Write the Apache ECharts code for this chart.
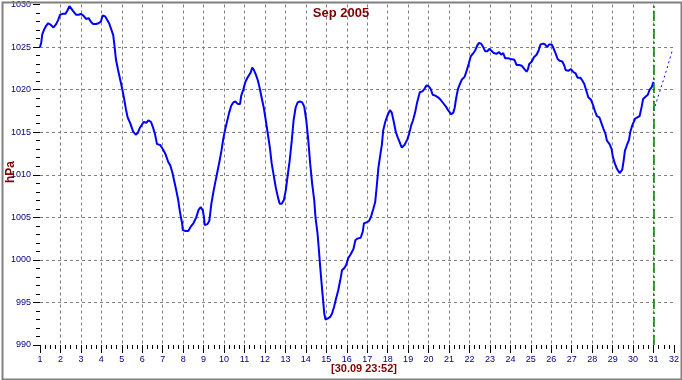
<!DOCTYPE html>
<html>
<head>
<meta charset="utf-8">
<script src="https://cdn.jsdelivr.net/npm/echarts@6/dist/echarts.min.js"></script>
<style>
html,body{margin:0;padding:0;background:#fff;}
#chart{width:682px;height:380px;}
</style>
</head>
<body>
<div id="chart"></div>
<script>
// ---- data ----
const titleText = 'Sep 2005';
const yAxisName = 'hPa';
const stampText = '[30.09 23:52]';
const dayMarker = 31;

const days = [
1.00,1.06,1.11,1.21,1.30,1.40,1.53,1.66,1.79,1.89,1.98,2.11,2.24,2.34,2.44,2.53,2.63,2.76,2.89,3.00,
3.12,3.25,3.38,3.48,3.60,3.73,3.87,3.98,4.06,4.19,4.28,4.38,4.48,4.58,4.65,4.71,4.81,4.90,5.00,5.10,
5.20,5.29,5.42,5.55,5.68,5.78,5.88,5.97,6.07,6.20,6.30,6.43,6.52,6.62,6.72,6.88,7.01,7.14,7.27,7.37,
7.47,7.56,7.66,7.76,7.82,7.89,7.95,7.98,8.11,8.25,8.37,8.50,8.64,8.76,8.86,8.96,9.02,9.05,9.19,9.28,
9.38,9.48,9.57,9.67,9.77,9.87,9.96,10.06,10.16,10.25,10.35,10.45,10.55,10.68,10.78,10.84,10.94,11.04,11.14,11.23,
11.30,11.38,11.46,11.55,11.65,11.75,11.85,11.94,12.04,12.14,12.24,12.33,12.43,12.53,12.63,12.72,12.82,12.92,13.02,13.11,
13.21,13.31,13.40,13.50,13.60,13.70,13.82,13.92,14.02,14.12,14.21,14.31,14.41,14.47,14.57,14.64,14.70,14.77,14.84,14.90,
14.96,15.06,15.19,15.28,15.38,15.48,15.58,15.68,15.77,15.87,15.97,16.07,16.20,16.33,16.42,16.52,16.68,16.78,16.84,16.97,
17.10,17.20,17.30,17.39,17.46,17.55,17.65,17.72,17.78,17.88,17.98,18.11,18.20,18.30,18.40,18.49,18.59,18.69,18.82,18.95,
19.05,19.15,19.24,19.34,19.44,19.57,19.70,19.80,19.90,20.00,20.10,20.20,20.33,20.46,20.59,20.72,20.85,20.98,21.11,21.21,
21.28,21.34,21.44,21.54,21.63,21.76,21.86,21.96,22.06,22.19,22.28,22.38,22.47,22.57,22.67,22.77,22.87,22.97,23.06,23.19,
23.32,23.45,23.55,23.65,23.74,23.87,24.01,24.10,24.20,24.30,24.43,24.56,24.69,24.79,24.86,24.92,25.05,25.15,25.28,25.38,
25.47,25.60,25.70,25.80,25.89,26.02,26.12,26.22,26.31,26.41,26.54,26.64,26.70,26.83,26.96,27.06,27.19,27.29,27.42,27.51,
27.61,27.71,27.81,27.94,28.04,28.13,28.23,28.36,28.46,28.55,28.65,28.72,28.85,28.95,29.01,29.11,29.21,29.34,29.47,29.54,
29.60,29.70,29.80,29.86,29.96,30.10,30.19,30.32,30.42,30.49,30.62,30.72,30.81,30.91,31.00
];
const pressure = [
1025.0,1025.5,1026.5,1027.1,1027.5,1027.8,1027.6,1027.3,1027.7,1028.2,1028.8,1028.9,1028.9,1029.3,1029.8,1029.6,1029.2,1028.8,1028.8,1028.9,
1028.7,1028.3,1028.4,1028.0,1027.7,1027.7,1027.8,1028.0,1028.7,1028.6,1028.4,1027.8,1027.1,1026.4,1025.0,1023.6,1022.4,1021.4,1020.3,1019.1,
1017.7,1016.7,1016.0,1015.1,1014.7,1014.9,1015.5,1015.7,1016.2,1016.1,1016.4,1016.2,1015.6,1014.8,1013.6,1013.5,1013.0,1012.4,1011.5,1011.1,
1010.3,1009.3,1008.2,1007.0,1006.0,1005.0,1004.3,1003.5,1003.4,1003.4,1003.9,1004.3,1005.0,1005.9,1006.2,1005.8,1005.0,1004.1,1004.2,1004.6,
1006.6,1008.0,1009.1,1010.3,1011.5,1012.8,1014.2,1015.4,1016.4,1017.3,1018.1,1018.5,1018.6,1018.3,1018.3,1019.3,1020.0,1020.9,1021.4,1021.5,
1022.0,1022.6,1022.3,1021.8,1021.1,1020.1,1018.9,1017.9,1016.4,1014.8,1013.2,1011.3,1009.9,1008.5,1007.4,1006.6,1006.6,1007.0,1008.2,1009.9,
1011.7,1014.0,1016.4,1017.9,1018.5,1018.6,1018.5,1018.0,1016.4,1014.0,1011.3,1008.9,1007.0,1005.0,1003.1,1001.1,999.2,997.2,995.3,993.7,
993.0,993.1,993.3,993.7,994.5,995.5,996.4,997.6,998.8,999.0,999.4,1000.2,1000.7,1001.3,1002.3,1002.5,1002.6,1003.3,1004.3,1004.4,
1004.6,1005.2,1006.0,1006.8,1008.5,1010.9,1012.5,1013.6,1015.2,1016.2,1016.9,1017.6,1017.3,1016.2,1015.0,1014.4,1013.8,1013.2,1013.5,1014.1,
1014.8,1015.8,1016.4,1017.3,1018.5,1019.7,1019.8,1020.1,1020.5,1020.4,1020.1,1019.4,1019.3,1019.1,1018.8,1018.4,1018.0,1017.5,1017.1,1017.3,
1017.9,1018.9,1020.1,1020.7,1021.2,1021.5,1022.2,1023.0,1023.9,1024.3,1024.6,1025.2,1025.5,1025.4,1025.0,1024.5,1024.5,1024.8,1024.6,1024.3,
1024.2,1024.4,1024.1,1024.3,1023.7,1023.7,1023.6,1023.4,1023.5,1022.9,1022.9,1022.8,1022.4,1022.1,1022.4,1023.0,1023.3,1023.8,1024.1,1024.6,
1025.3,1025.4,1025.3,1025.0,1025.3,1025.3,1024.8,1024.2,1023.6,1023.4,1023.3,1022.8,1022.3,1022.2,1022.4,1022.1,1021.9,1021.4,1021.4,1021.1,
1020.7,1019.9,1019.1,1018.8,1018.2,1017.5,1016.9,1016.7,1016.0,1015.4,1014.8,1014.0,1013.6,1013.0,1012.1,1011.3,1010.7,1010.2,1010.6,1011.7,
1012.8,1013.5,1014.1,1015.0,1015.8,1016.6,1016.8,1016.9,1018.0,1018.9,1019.2,1019.4,1020.0,1020.3,1020.9
];
const forecastDays = [31.00, 31.32, 31.65, 31.94];
const forecastPressure = [1017.5, 1019.9, 1022.4, 1024.8];

const xMin = 1, xMax = 32, xStep = 1;
const yMin = 990, yMax = 1030, yStep = 5;

// ---- chart ----
const FONT = '"Liberation Sans", Arial, sans-serif';
const chart = echarts.init(document.getElementById('chart'), null, {renderer: 'canvas'});
const zip = (a, b) => a.map((v, i) => [v, b[i]]);

chart.setOption({
  animation: false,
  backgroundColor: '#ffffff',
  grid: {left: 40, right: 5, top: 4, bottom: 35, containLabel: false},
  xAxis: {
    type: 'value', min: xMin, max: xMax, interval: xStep,
    axisLine: {show: false},
    axisTick: {show: true, length: 8, lineStyle: {color: '#000', width: 1}},
    minorTick: {show: true, splitNumber: 4, length: 4, lineStyle: {color: '#000', width: 1}},
    axisLabel: {color: '#000080', fontFamily: FONT, fontSize: 9, margin: 10,
      showMinLabel: true, showMaxLabel: true, formatter: v => String(Math.round(v))},
    splitLine: {show: true, showMinLine: false, showMaxLine: false,
      lineStyle: {color: '#808080', type: [3, 3], width: 1}}
  },
  yAxis: {
    type: 'value', min: yMin, max: yMax, interval: yStep,
    axisLine: {show: false},
    axisTick: {show: true, length: 7, lineStyle: {color: '#000', width: 1}},
    minorTick: {show: true, splitNumber: 5, length: 4, lineStyle: {color: '#000', width: 1}},
    axisLabel: {color: '#000080', fontFamily: FONT, fontSize: 9, margin: 9,
      formatter: v => String(Math.round(v))},
    splitLine: {show: true, showMinLine: false, showMaxLine: false,
      lineStyle: {color: '#808080', type: [3, 3], width: 1}}
  },
  series: [
    {
      type: 'line', data: zip(days, pressure), showSymbol: false, symbol: 'none',
      lineStyle: {color: '#0000ff', width: 2}, smooth: false, z: 3,
      markLine: {
        silent: true, symbol: ['none', 'none'], label: {show: false},
        lineStyle: {color: '#008000', type: [10, 3, 2, 3], width: 1.5},
        data: [{xAxis: dayMarker}]
      }
    },
    {
      type: 'line', data: zip(forecastDays, forecastPressure), showSymbol: false, symbol: 'none',
      lineStyle: {color: '#0000ff', width: 1, type: [2, 3]}, z: 3
    }
  ],
  graphic: [
    {type: 'rect', left: 0, top: 0, z: 100, silent: true,
      shape: {x: 1, y: 1, width: 679, height: 377},
      style: {fill: 'none', stroke: '#808080', lineWidth: 2}},
    {type: 'text', x: 341, y: 13, z: 100,
      style: {text: titleText, fill: '#800000', font: 'bold 13px ' + FONT, align: 'center', verticalAlign: 'middle'}},
    {type: 'text', x: 364, y: 369, z: 100,
      style: {text: stampText, fill: '#800000', font: 'bold 11px ' + FONT, align: 'center', verticalAlign: 'middle'}},
    {type: 'text', x: 11, y: 172, rotation: Math.PI / 2, z: 100,
      style: {text: yAxisName, fill: '#800000', font: 'bold 12px ' + FONT, align: 'center', verticalAlign: 'middle'}}
  ]
});
</script>
</body>
</html>
